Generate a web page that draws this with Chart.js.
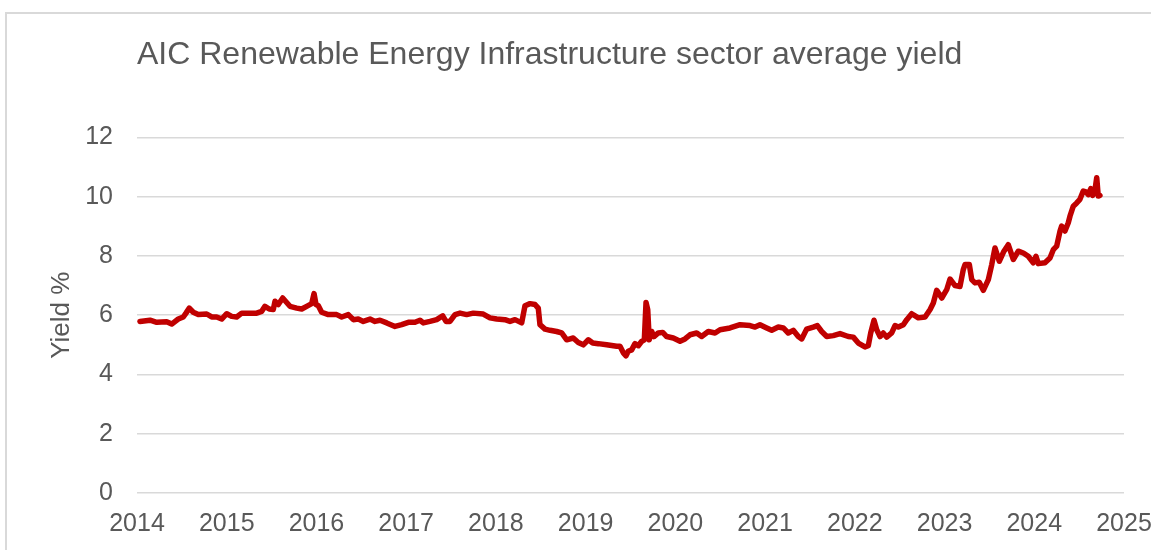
<!DOCTYPE html>
<html>
<head>
<meta charset="utf-8">
<script src="https://cdn.jsdelivr.net/npm/chart.js@4/dist/chart.umd.min.js"></script>
<style>
  html, body { margin: 0; padding: 0; background: #ffffff; overflow: hidden; }
  #wrap { position: relative; width: 1151px; height: 550px; }
  #frame { position: absolute; left: 5px; top: 12px; width: 1200px; height: 600px; border: 2px solid #d9d9d9; box-sizing: border-box; }
  #c { position: absolute; left: 0; top: 0; }
</style>
</head>
<body>
<div id="wrap">
  <div id="frame"></div>
  <canvas id="c" width="1151" height="550"></canvas>
</div>
<script>
const chartTitle = "AIC Renewable Energy Infrastructure sector average yield";
const yAxisTitle = "Yield %";
const yearTicks = [2014, 2015, 2016, 2017, 2018, 2019, 2020, 2021, 2022, 2023, 2024, 2025];

const dates = [
  2014.033, 2014.145, 2014.220, 2014.331, 2014.387, 2014.460, 2014.516, 2014.546, 2014.583, 2014.627,
  2014.683, 2014.777, 2014.832, 2014.888, 2014.944, 2015.000, 2015.055, 2015.111, 2015.167, 2015.334,
  2015.390, 2015.426, 2015.474, 2015.519, 2015.538, 2015.575, 2015.624, 2015.668, 2015.705, 2015.780,
  2015.836, 2015.891, 2015.947, 2015.973, 2015.995, 2016.021, 2016.058, 2016.132, 2016.226, 2016.281,
  2016.355, 2016.411, 2016.466, 2016.522, 2016.597, 2016.652, 2016.708, 2016.783, 2016.875, 2016.950,
  2017.024, 2017.098, 2017.154, 2017.191, 2017.265, 2017.340, 2017.407, 2017.444, 2017.488, 2017.544,
  2017.600, 2017.674, 2017.748, 2017.859, 2017.934, 2018.009, 2018.101, 2018.157, 2018.213, 2018.287,
  2018.324, 2018.380, 2018.436, 2018.472, 2018.491, 2018.547, 2018.603, 2018.677, 2018.733, 2018.789,
  2018.862, 2018.918, 2018.974, 2019.030, 2019.079, 2019.141, 2019.235, 2019.346, 2019.383, 2019.420,
  2019.450, 2019.475, 2019.513, 2019.550, 2019.587, 2019.625, 2019.654, 2019.673, 2019.692, 2019.709,
  2019.736, 2019.762, 2019.810, 2019.859, 2019.903, 2019.977, 2020.052, 2020.107, 2020.163, 2020.238,
  2020.293, 2020.367, 2020.442, 2020.498, 2020.609, 2020.721, 2020.832, 2020.888, 2020.943, 2021.018,
  2021.074, 2021.147, 2021.203, 2021.258, 2021.314, 2021.370, 2021.408, 2021.463, 2021.537, 2021.582,
  2021.631, 2021.687, 2021.760, 2021.835, 2021.927, 2021.983, 2022.039, 2022.113, 2022.150, 2022.177,
  2022.214, 2022.244, 2022.281, 2022.317, 2022.355, 2022.411, 2022.448, 2022.485, 2022.541, 2022.579,
  2022.634, 2022.708, 2022.783, 2022.839, 2022.875, 2022.913, 2022.969, 2023.024, 2023.061, 2023.117,
  2023.172, 2023.209, 2023.228, 2023.276, 2023.303, 2023.339, 2023.387, 2023.432, 2023.488, 2023.526,
  2023.562, 2023.610, 2023.662, 2023.710, 2023.766, 2023.822, 2023.878, 2023.933, 2023.989, 2024.019,
  2024.045, 2024.119, 2024.175, 2024.212, 2024.250, 2024.287, 2024.305, 2024.342, 2024.379, 2024.398,
  2024.435, 2024.473, 2024.509, 2024.546, 2024.576, 2024.602, 2024.629, 2024.651, 2024.677, 2024.696,
  2024.713, 2024.732
];

const yields = [
  5.79, 5.83, 5.76, 5.78, 5.70, 5.87, 5.94, 6.07, 6.24, 6.10,
  6.02, 6.04, 5.94, 5.94, 5.87, 6.05, 5.96, 5.94, 6.07, 6.07,
  6.13, 6.30, 6.21, 6.19, 6.47, 6.36, 6.58, 6.43, 6.30, 6.24,
  6.21, 6.30, 6.39, 6.73, 6.36, 6.32, 6.10, 6.02, 6.02, 5.94,
  6.02, 5.85, 5.87, 5.79, 5.87, 5.79, 5.83, 5.74, 5.62, 5.68,
  5.76, 5.76, 5.83, 5.74, 5.79, 5.85, 5.98, 5.79, 5.79, 6.02,
  6.07, 6.02, 6.07, 6.04, 5.91, 5.87, 5.85, 5.79, 5.85, 5.74,
  6.32, 6.39, 6.36, 6.24, 5.68, 5.53, 5.49, 5.45, 5.40, 5.17,
  5.23, 5.08, 5.00, 5.17, 5.06, 5.04, 5.00, 4.95, 4.95, 4.73,
  4.63, 4.78, 4.83, 5.04, 4.97, 5.12, 5.17, 6.43, 6.19, 5.17,
  5.45, 5.28, 5.40, 5.42, 5.28, 5.23, 5.12, 5.20, 5.34, 5.40,
  5.28, 5.45, 5.40, 5.51, 5.57, 5.68, 5.65, 5.60, 5.68, 5.57,
  5.49, 5.60, 5.57, 5.40, 5.49, 5.28, 5.20, 5.53, 5.60, 5.65,
  5.45, 5.28, 5.31, 5.38, 5.28, 5.26, 5.06, 4.93, 4.97, 5.40,
  5.83, 5.51, 5.28, 5.40, 5.26, 5.40, 5.65, 5.60, 5.68, 5.85,
  6.05, 5.91, 5.94, 6.19, 6.41, 6.84, 6.58, 6.86, 7.22, 7.00,
  6.97, 7.54, 7.71, 7.71, 7.20, 7.09, 7.11, 6.84, 7.20, 7.71,
  8.27, 7.82, 8.16, 8.38, 7.88, 8.16, 8.10, 7.99, 7.77, 7.99,
  7.74, 7.77, 7.93, 8.21, 8.33, 8.84, 9.01, 8.84, 9.12, 9.34,
  9.68, 9.79, 9.91, 10.19, 10.16, 10.07, 10.27, 10.04, 10.24, 10.64,
  10.02, 10.04
];

const textColor = '#595959';
const gridColor = '#d9d9d9';
const lineColor = '#c00000';
const fontFamily = '"Liberation Sans", Arial, sans-serif';

const points = dates.map((d, i) => ({ x: d, y: yields[i] }));

new Chart(document.getElementById('c'), {
  type: 'line',
  data: {
    datasets: [{
      data: points,
      borderColor: lineColor,
      borderWidth: 5.5,
      pointRadius: 0,
      tension: 0,
      borderJoinStyle: 'round',
      borderCapStyle: 'round'
    }]
  },
  options: {
    responsive: false,
    animation: false,
    layout: { padding: { left: 0, right: 0, top: 0, bottom: 0 } },
    plugins: {
      legend: { display: false },
      tooltip: { enabled: false },
      title: {
        display: true,
        text: chartTitle,
        align: 'start',
        fullSize: false,
        color: textColor,
        font: { family: fontFamily, size: 32, weight: 'normal' },
        padding: { top: 36, bottom: 63 }
      }
    },
    scales: {
      x: {
        type: 'linear',
        min: yearTicks[0],
        max: yearTicks[yearTicks.length - 1],
        afterBuildTicks: (scale) => { scale.ticks = yearTicks.map(v => ({ value: v })); },
        afterFit: (scale) => { scale.height = 57; scale.paddingRight = 27; scale.paddingLeft = 0; },
        grid: { display: false, drawTicks: false },
        border: { display: false },
        ticks: {
          color: textColor,
          padding: 16,
          maxRotation: 0,
          autoSkip: false,
          font: { family: fontFamily, size: 25 },
          callback: (v) => String(v)
        }
      },
      y: {
        min: 0,
        max: 12,
        afterFit: (scale) => { scale.width = 137; },
        grid: { color: gridColor, lineWidth: 1.5, drawTicks: false },
        border: { display: false },
        ticks: {
          stepSize: 2,
          color: textColor,
          padding: 24,
          font: { family: fontFamily, size: 25 }
        },
        title: {
          display: true,
          text: yAxisTitle,
          color: textColor,
          font: { family: fontFamily, size: 26 },
          padding: { top: 46, bottom: 0 }
        }
      }
    }
  }
});
</script>
</body>
</html>
